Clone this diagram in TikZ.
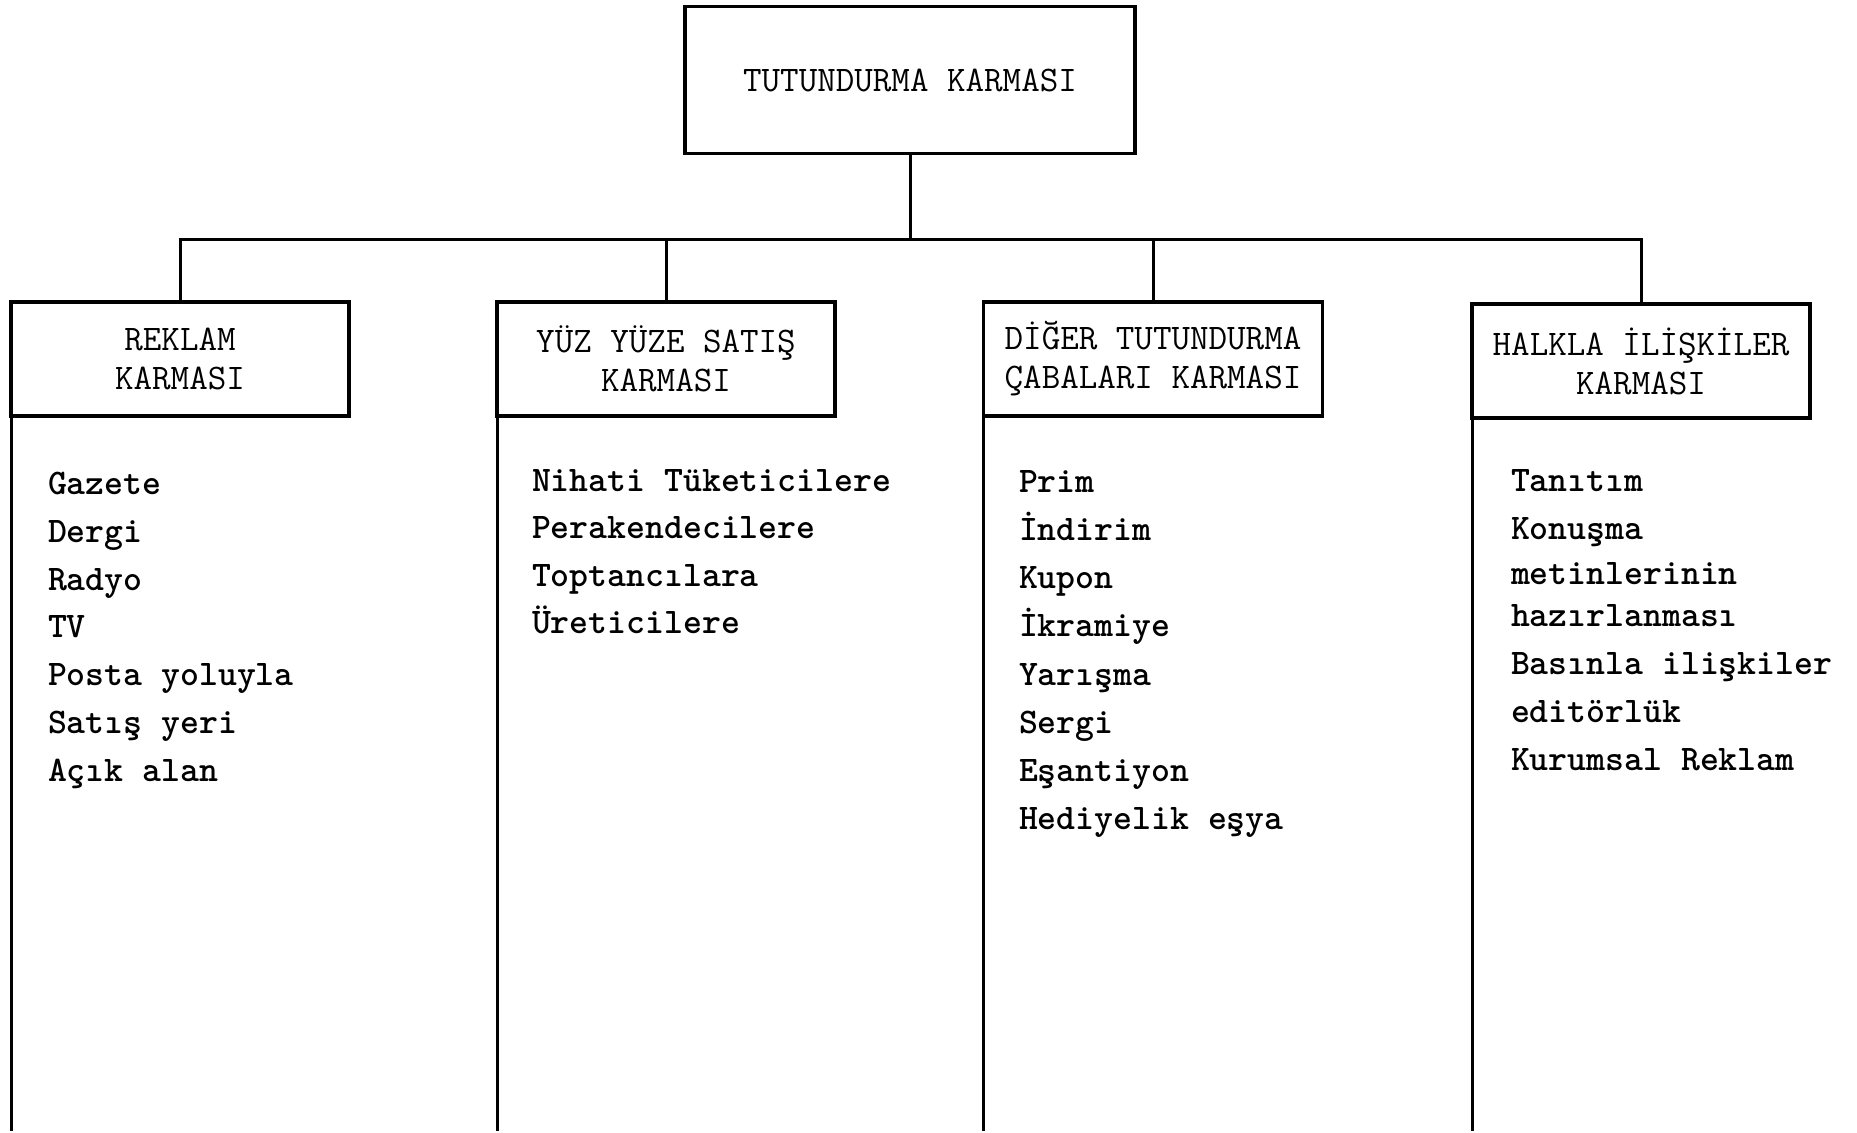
\documentclass[tikz,border=0pt]{standalone}
\usepackage{fontspec}
\begin{document}
\begin{tikzpicture}[x=1pt,y=-1pt,
  every node/.style={inner sep=0pt,outer sep=0pt},
  headbox/.style={draw,line width=3.5pt,align=center,
    font=\ttfamily\fontsize{36}{39}\selectfont},
  item/.style={anchor=base west,font=\ttfamily\bfseries\fontsize{36}{40}\selectfont},
  link/.style={line width=3pt},
  rail/.style={line width=3pt}]
\useasboundingbox (0,0) rectangle (1857,1132);
\coordinate (bottom) at (0,1131);

% top box
\node[headbox,minimum width=450,minimum height=147] (top) at (910,80) {TUTUNDURMA KARMASI};

% second level boxes
\node[headbox,minimum width=338,minimum height=114] (b1) at (180,359) {REKLAM\\KARMASI};
\node[headbox,minimum width=338,minimum height=114] (b2) at (666,359) {YÜZ YÜZE SATIŞ\\KARMASI};
\node[headbox,minimum width=339,minimum height=114] (b3) at (1153,359) {DİĞER TUTUNDURMA\\ÇABALARI KARMASI};
\node[headbox,minimum width=338,minimum height=114] (b4) at (1641,361) {HALKLA İLİŞKİLER\\KARMASI};

% tree connectors
\coordinate (hub) at (910,239);
\draw[link] (top.south) -- (hub);
\draw[link] (b1.north) -- (b1.north |- hub) -- (b4.north |- hub) -- (b4.north);
\draw[link] (b2.north) -- (b2.north |- hub);
\draw[link] (b3.north) -- (b3.north |- hub);

% column rules below the boxes
\draw[rail] (b1.south west) -- (b1.south west |- bottom);
\draw[rail] (b2.south west) -- (b2.south west |- bottom);
\draw[rail] (b3.south west) -- (b3.south west |- bottom);
\draw[rail] (b4.south west) -- (b4.south west |- bottom);

% advertising media
\node[item] (r1) at (48,494) {Gazete};
\node[item] (r2) at (48,542) {Dergi};
\node[item] (r3) at (48,590) {Radyo};
\node[item] (r4) at (48,637) {TV};
\node[item] (r5) at (48,685) {Posta yoluyla};
\node[item] (r6) at (48,733) {Satış yeri};
\node[item] (r7) at (48,781) {Açık alan};

% personal selling
\node[item] (s1) at (532,491) {Nihati Tüketicilere};
\node[item] (s2) at (532,538) {Perakendecilere};
\node[item] (s3) at (532,586) {Toptancılara};
\node[item] (s4) at (532,633) {Üreticilere};

% other promotion efforts
\node[item] (d1) at (1019,492) {Prim};
\node[item] (d2) at (1019,540) {İndirim};
\node[item] (d3) at (1019,588) {Kupon};
\node[item] (d4) at (1019,636) {İkramiye};
\node[item] (d5) at (1019,685) {Yarışma};
\node[item] (d6) at (1019,733) {Sergi};
\node[item] (d7) at (1019,781) {Eşantiyon};
\node[item] (d8) at (1019,829) {Hediyelik eşya};

% public relations
\node[item] (h1) at (1511,491) {Tanıtım};
\node[item] (h2) at (1511,539) {Konuşma};
\node[item] (h3) at (1511,584) {metinlerinin};
\node[item] (h4) at (1511,626) {hazırlanması};
\node[item] (h5) at (1511,674) {Basınla ilişkiler};
\node[item] (h6) at (1511,722) {editörlük};
\node[item] (h7) at (1511,770) {Kurumsal Reklam};
\end{tikzpicture}
\end{document}
